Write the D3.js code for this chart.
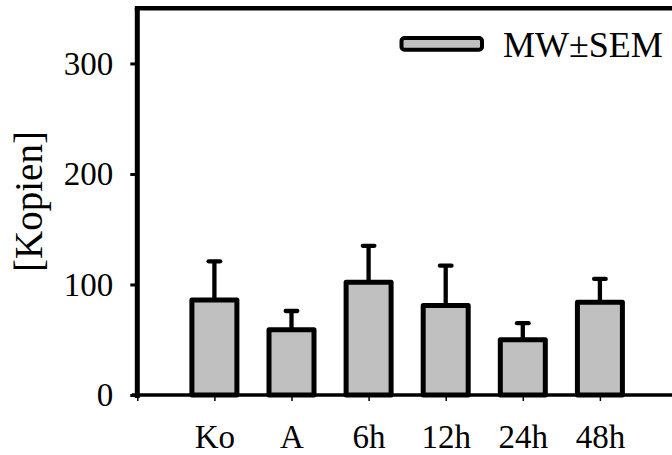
<!DOCTYPE html>
<html>
<head>
<meta charset="utf-8">
<script src="https://cdn.jsdelivr.net/npm/d3@7"></script>
<style>
  html, body { margin: 0; padding: 0; background: #fff; }
  svg { display: block; font-family: "Liberation Serif", "Times New Roman", serif; }
</style>
</head>
<body>
<div id="chart"></div>
<script>
// Copies per group (mean and upper SEM limit)
const categories = ['Ko', 'A', '6h', '12h', '24h', '48h'];
const means      = [86, 59, 102, 81, 50, 84];
const upper      = [121, 76, 135, 117, 65, 105];
const yTicks     = [0, 100, 200, 300];
const legendText = 'MW\u00b1SEM';
const yTitle     = '[Kopien]';

const W = 672, H = 455;

const svg = d3.select('#chart').append('svg')
  .attr('width', W).attr('height', H);

// x positions: slot 0 is the axis origin, categories sit on 1..6
const x = d3.scaleLinear().domain([0, 7]).range([137.3, 677]);
const y = d3.scaleLinear().domain([0, 350]).range([395, 8.2]);
const barW = 45;

// Frame: left axis + top border
svg.append('line')
  .attr('x1', x(0)).attr('x2', x(0))
  .attr('y1', y(350)).attr('y2', y(0) + 3)
  .attr('stroke', '#000').attr('stroke-width', 5);
svg.append('line')
  .attr('x1', x(0) - 2.5).attr('x2', x(7))
  .attr('y1', y(350)).attr('y2', y(350))
  .attr('stroke', '#000').attr('stroke-width', 4.5);

// Y axis ticks + labels
const yAxis = svg.append('g')
  .attr('transform', `translate(${x(0)},0)`)
  .call(d3.axisLeft(y).tickValues(yTicks).tickSize(7).tickPadding(17));
yAxis.select('.domain').remove();
yAxis.selectAll('.tick line').attr('stroke-width', 3);
yAxis.selectAll('.tick text')
  .attr('font-size', 33).attr('font-family', '"Liberation Serif", serif')
  .attr('fill', '#000');

// X axis ticks + labels
const xAxis = svg.append('g')
  .attr('transform', `translate(0,${y(0)})`)
  .call(d3.axisBottom(x).tickValues(d3.range(0, 7)).tickSize(6)
    .tickFormat(i => i === 0 ? '' : categories[i - 1]));
xAxis.select('.domain').remove();
xAxis.selectAll('.tick line').attr('stroke-width', 1.5);
xAxis.selectAll('.tick text')
  .attr('y', 53).attr('dy', null)
  .attr('font-size', 33).attr('font-family', '"Liberation Serif", serif')
  .attr('fill', '#000');

// Error bars (upper only), drawn before bars so the bar edge covers the stem
const err = svg.append('g');
categories.forEach((c, i) => {
  const cx = x(i + 1);
  err.append('line')
    .attr('x1', cx).attr('x2', cx)
    .attr('y1', y(means[i])).attr('y2', y(upper[i]))
    .attr('stroke', '#000').attr('stroke-width', 4.3);
  err.append('line')
    .attr('x1', cx - 5.8).attr('x2', cx + 5.8)
    .attr('y1', y(upper[i])).attr('y2', y(upper[i]))
    .attr('stroke', '#000').attr('stroke-width', 4.3)
    .attr('stroke-linecap', 'round');
});

// Bars
svg.append('g').selectAll('rect')
  .data(means)
  .enter().append('rect')
  .attr('x', (_, i) => x(i + 1) - barW / 2)
  .attr('y', d => y(d))
  .attr('width', barW)
  .attr('height', d => y(0) - y(d))
  .attr('fill', '#c0c0c0')
  .attr('stroke', '#000').attr('stroke-width', 5)
  .attr('stroke-linejoin', 'round');

// X axis line on top of bar bottoms
svg.append('line')
  .attr('x1', x(0) - 5.5).attr('x2', x(7))
  .attr('y1', y(0)).attr('y2', y(0))
  .attr('stroke', '#000').attr('stroke-width', 3.5);

// Legend
svg.append('rect')
  .attr('x', 401.5).attr('y', 38)
  .attr('width', 80.5).attr('height', 11.8)
  .attr('rx', 3)
  .attr('fill', '#c0c0c0')
  .attr('stroke', '#000').attr('stroke-width', 4);
svg.append('text')
  .attr('x', 503).attr('y', 57)
  .attr('font-size', 36)
  .attr('fill', '#000')
  .text(legendText);

// Y axis title
svg.append('text')
  .attr('transform', 'translate(42,201.5) rotate(-90)')
  .attr('text-anchor', 'middle')
  .attr('font-size', 39)
  .attr('fill', '#000')
  .text(yTitle);
</script>
</body>
</html>
